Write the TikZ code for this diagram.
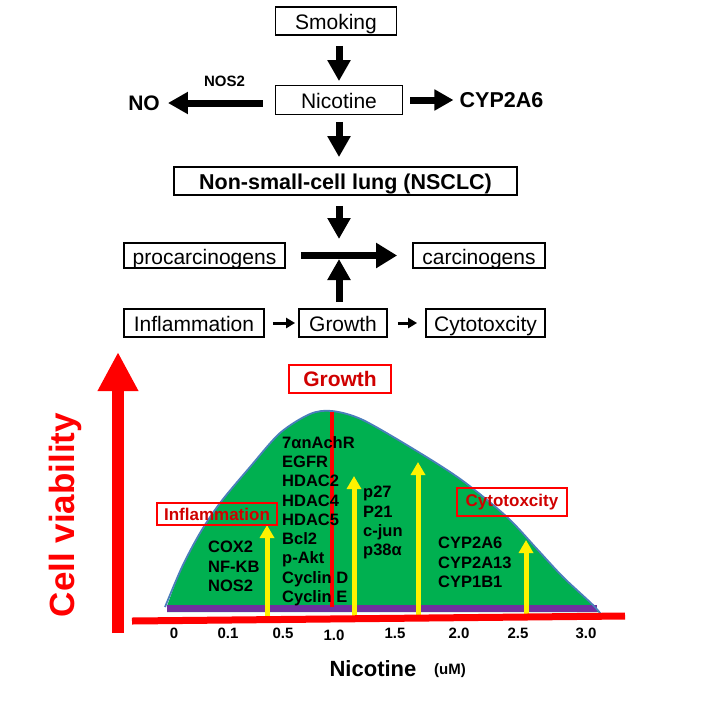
\documentclass[tikz,border=0pt]{standalone}
\usepackage{fontspec}
\setmainfont{Liberation Sans}
\usetikzlibrary{arrows.meta}
\definecolor{chartgreen}{HTML}{00B050}
\definecolor{curveblue}{HTML}{4A7EBB}
\definecolor{bandpurple}{HTML}{7030A0}
\definecolor{labelred}{HTML}{D00000}
\newcommand{\setfs}[1]{\fontsize{#1}{#1}\selectfont}
\begin{document}
\begin{tikzpicture}[x=1pt,y=-1pt,
  fbox/.style={draw, line width=1.8pt, inner sep=0pt, minimum height=28pt, text height=17pt, text depth=0pt, font=\setfs{21}},
  bigarrow/.style={line width=7pt, -{Triangle[width=22pt,length=21pt]}},
  smallarrow/.style={line width=3pt, -{Triangle[width=10pt,length=9pt]}},
  redlabel/.style={draw=red, line width=2.2pt, inner sep=0pt, text=labelred, font=\bfseries\setfs{17}},
  listtext/.style={anchor=north west, align=left, inner sep=0pt, font=\bfseries\fontsize{16.5}{19.3}\selectfont},
  tick/.style={inner sep=0pt, font=\bfseries\setfs{15}},
  yarrow/.style={draw=yellow, line width=5pt, -{Triangle[width=14pt,length=13pt]}},
]
\path[use as bounding box] (0,0) rectangle (727,707);

% ---------- top flow ----------
\node[fbox, minimum width=121pt] (smoking) at (336,21) {Smoking};
\node[fbox, minimum width=127pt, minimum height=29pt] (nicotine) at (339,100) {Nicotine};
\node[inner sep=0pt, font=\bfseries\setfs{21}] (no) at (144,103) {NO};
\node[inner sep=0pt, font=\bfseries\setfs{15}] (nos2) at (224.5,81) {NOS2};
\node[inner sep=0pt, font=\bfseries\setfs{21.5}] (cyp) at (501.5,100) {CYP2A6};
\node[fbox, font=\bfseries\setfs{21.5}, minimum width=343pt] (nsclc) at (345.5,181) {Non-small-cell lung (NSCLC)};
\node[fbox, minimum width=161pt, minimum height=25pt] (procarc) at (204.5,255.5) {procarcinogens};
\node[fbox, minimum width=132pt, minimum height=25pt] (carc) at (479,255.5) {carcinogens};
\node[fbox, minimum width=140pt] (inflam) at (194,323) {Inflammation};
\node[fbox, minimum width=88pt] (growth) at (343,323) {Growth};
\node[fbox, minimum width=119pt] (cyto) at (485.5,323) {Cytotoxcity};
\coordinate (cross) at (339,256);

\draw[bigarrow, shorten <=10pt, shorten >=3.5pt] (nicotine.north |- smoking.south) -- (nicotine.north);
\draw[bigarrow, -{Triangle[width=21pt,length=20pt]}, shorten <=12pt, shorten >=8pt] (nicotine.west |- no.east) -- (no.east);
\draw[bigarrow, -{Triangle[width=20pt,length=19pt]}, shorten <=7pt, shorten >=6pt] (nicotine.east) -- (cyp.west |- nicotine.east);
\draw[bigarrow, shorten <=6.5pt, shorten >=9pt] (nicotine.south) -- (nicotine.south |- nsclc.north);
\draw[bigarrow, shorten <=10pt, shorten >=17pt] (nicotine.south |- nsclc.south) -- (cross);
\draw[bigarrow, shorten <=6pt, shorten >=3pt] (nicotine.south |- growth.north) -- (cross);
\draw[bigarrow, -{Triangle[width=24pt,length=21pt]}, shorten <=15pt, shorten >=15pt] (procarc.east) -- (carc.west);
\draw[smallarrow, shorten <=8pt, shorten >=3pt] (inflam.east) -- (growth.west);
\draw[smallarrow, shorten <=10pt, shorten >=8pt] (growth.east) -- (cyto.west);

% ---------- chart ----------
\draw[red, line width=12pt, -{Triangle[width=38pt,length=39pt]}] (118,633) -- (118,352);
\node[rotate=90, inner sep=0pt, text=red, font=\bfseries\setfs{35}] (cellv) at (65.5,515) {Cell viability};

\fill[chartgreen] plot[smooth] coordinates {(167,606) (182,567) (200,533) (220,503) (250,467) (280,433) (310,414) (332,411) (363,420) (420,453) (463,481) (507,517) (537,549) (563,577) (593,605) (600,612)} -- (167,612) -- cycle;
\fill[bandpurple] (167,605) rectangle (597,612);
\draw[curveblue, line width=1.8pt] plot[smooth] coordinates {(165,607) (182,567) (200,533) (220,503) (250,467) (280,433) (310,414) (332,411) (363,420) (420,453) (463,481) (507,517) (537,549) (563,577) (593,605) (603,617)};

\draw[red, line width=4pt] (332,412) -- (332,607);

\draw[yarrow] (267,617) -- (267,525);
\draw[yarrow] (354,617) -- (354,476);
\draw[yarrow] (418,617) -- (418,462);
\draw[yarrow] (526,617) -- (526,540);

\draw[red, line width=7pt] (132,621) -- (625,616);

\node[redlabel, minimum width=102pt, minimum height=28pt, fill=white, font=\bfseries\setfs{21}] (growthlbl) at (340,379) {Growth};
\node[redlabel, minimum width=120pt, minimum height=22pt] (inflbl) at (217,514) {Inflammation};
\node[redlabel, minimum width=110pt, minimum height=28pt] (cytolbl) at (512,502) {Cytotoxcity};

\node[listtext] (list1) at (208,541) {COX2\\NF-KB\\NOS2};
\node[listtext] (list2) at (282,436) {7αnAchR\\EGFR\\HDAC2\\HDAC4\\HDAC5\\Bcl2\\p-Akt\\Cyclin D\\Cyclin E};
\node[listtext] (list3) at (363,486) {p27\\P21\\c-jun\\p38α};
\node[listtext] (list4) at (438,537) {CYP2A6\\CYP2A13\\CYP1B1};

\node[tick] (t0) at (174,633) {0};
\node[tick] (t1) at (228,633) {0.1};
\node[tick] (t2) at (283,633) {0.5};
\node[tick] (t3) at (334,635) {1.0};
\node[tick] (t4) at (395,633) {1.5};
\node[tick] (t5) at (459,633) {2.0};
\node[tick] (t6) at (518,633) {2.5};
\node[tick] (t7) at (586,633) {3.0};
\node[inner sep=0pt, font=\bfseries\setfs{22}] (xlabel) at (373,669) {Nicotine};
\node[inner sep=0pt, font=\bfseries\setfs{15}] (unit) at (450,671) {(uM)};
\end{tikzpicture}
\end{document}
